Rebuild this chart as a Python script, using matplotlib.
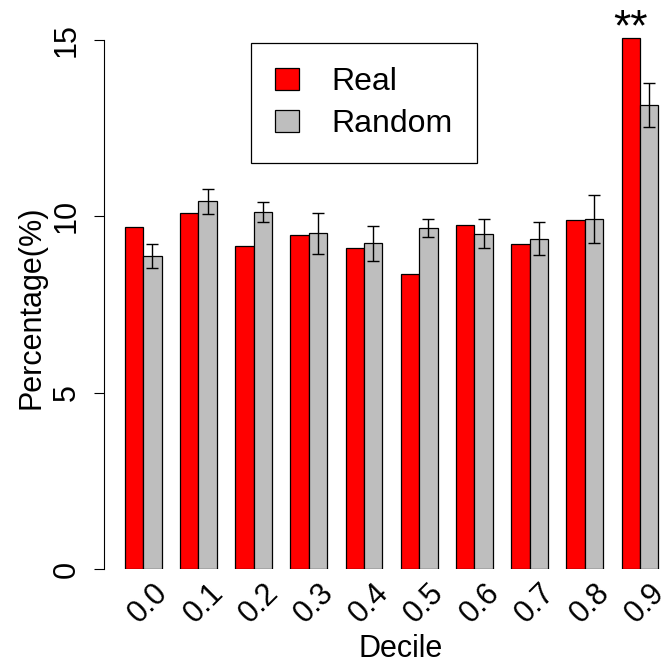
import numpy as np
import matplotlib
matplotlib.use("Agg")
import matplotlib.pyplot as plt

plt.rcParams['font.family'] = ['Liberation Sans', 'DejaVu Sans']

deciles = ['0.0', '0.1', '0.2', '0.3', '0.4', '0.5', '0.6', '0.7', '0.8', '0.9']
real = [9.71, 10.10, 9.17, 9.48, 9.11, 8.36, 9.75, 9.21, 9.90, 15.05]
random_mean = [8.88, 10.43, 10.13, 9.52, 9.24, 9.67, 9.51, 9.37, 9.94, 13.16]
random_err = [0.33, 0.36, 0.28, 0.59, 0.50, 0.26, 0.41, 0.47, 0.68, 0.63]

W, H = 664, 664
fig = plt.figure(figsize=(W / 100, H / 100), dpi=100)
# plot region in pixels: left 103.5, bottom 569, top 19
ax = fig.add_axes([103.5 / W, 1 - 569 / H, (W - 103.5) / W, 550 / H])

# R style barplot, beside=TRUE, space=c(0,1)
n = len(deciles)
left_red = 1 + 3 * np.arange(n)
ax.bar(left_red, real, width=1, align='edge', color='#FF0000',
       edgecolor='black', linewidth=0.9)
ax.bar(left_red + 1, random_mean, width=1, align='edge', color='#BEBEBE',
       edgecolor='black', linewidth=0.9)
ax.errorbar(left_red + 1.5, random_mean, yerr=random_err, fmt='none',
            ecolor='black', elinewidth=1.0, capsize=4.2, capthick=1.0)

ax.annotate('**', xy=(left_red[-1] + 0.5, real[-1]), xytext=(0, -2),
            textcoords='offset pixels', ha='center', va='baseline',
            fontsize=32, annotation_clip=False)

ax.set_xlim(-0.16, -0.16 + (W - 103.5) / 18.4)
ax.set_ylim(0, 15.6)

for s in ['top', 'right', 'bottom']:
    ax.spines[s].set_visible(False)
ax.spines['left'].set_bounds(0, 15)
ax.spines['left'].set_linewidth(0.8)

ax.set_yticks([0, 5, 10, 15])
ax.tick_params(axis='y', length=7.2, width=0.8, pad=8.5, labelsize=22,
               labelrotation=90)
for lab in ax.get_yticklabels():
    lab.set_va('center')

ax.set_xticks(left_red + 2.1)
ax.set_xticklabels(deciles, rotation=45, ha='right', va='center',
                   rotation_mode='anchor', fontsize=22)
ax.tick_params(axis='x', length=0, pad=14)

ax.set_xlabel('Decile', fontsize=22)
ax.xaxis.set_label_coords((401 - 103.5) / (W - 103.5), (569 - 657) / 550)
ax.xaxis.label.set_va('baseline')
ax.set_ylabel('Percentage(%)', fontsize=22)
ax.yaxis.set_label_coords((40 - 103.5) / (W - 103.5), (569 - 307) / 550)
ax.yaxis.label.set_va('baseline')

leg = ax.legend(['Real', 'Random'], loc='upper left',
                bbox_to_anchor=(251 / W, 1 - 43 / H),
                bbox_transform=fig.transFigure, borderaxespad=0,
                fontsize=23, fancybox=False, edgecolor='black',
                framealpha=1, borderpad=0.76, handlelength=0.75,
                handleheight=0.66, handletextpad=1.0, labelspacing=0.37)
leg.get_frame().set_linewidth(0.9)

fig.savefig('out.png', dpi=100)
